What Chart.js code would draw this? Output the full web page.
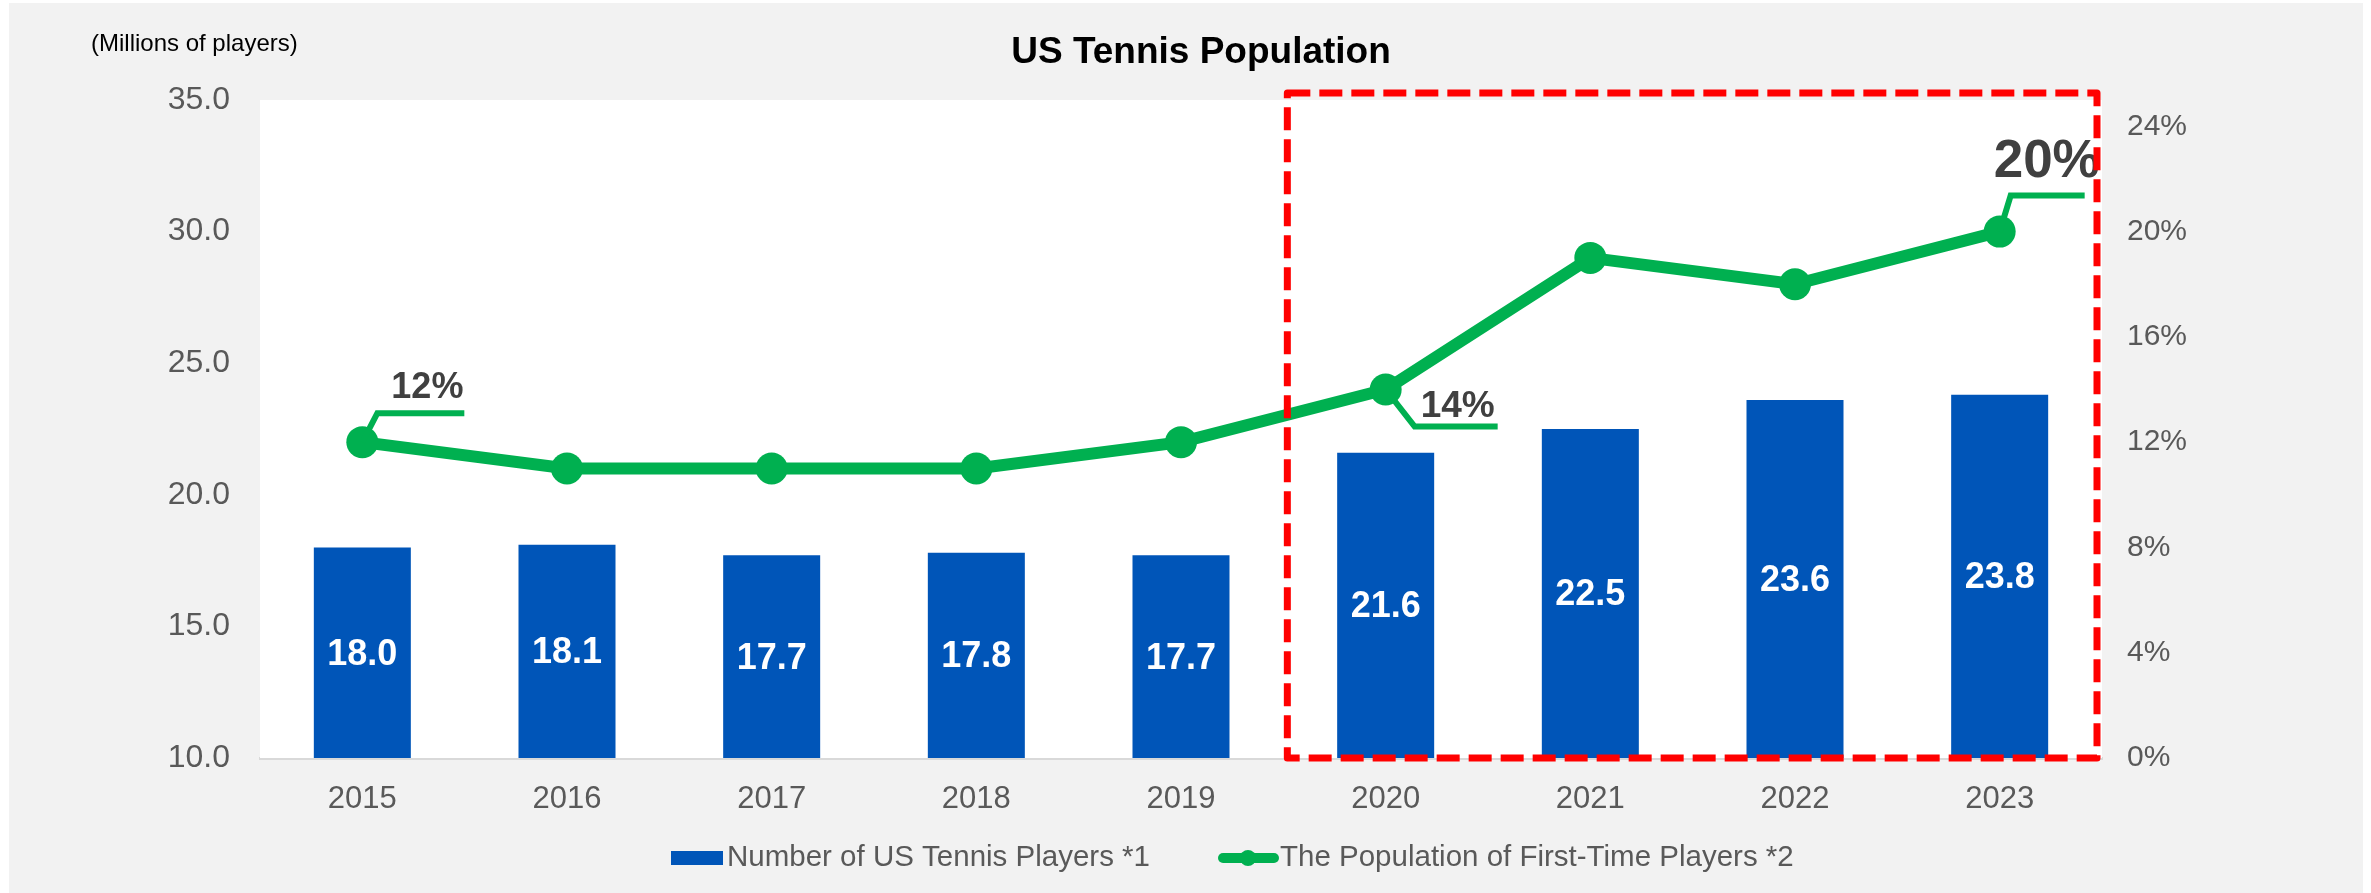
<!DOCTYPE html>
<html>
<head>
<meta charset="utf-8">
<script src="https://cdn.jsdelivr.net/npm/chart.js@4"></script>
<style>
  html, body { margin: 0; padding: 0; background: #ffffff; }
  #panel { position: absolute; left: 9px; top: 3px; width: 2354px; height: 890px; background: #f2f2f2; }
  #chart { position: absolute; left: 0; top: 0; display: block; }
</style>
</head>
<body>
<div id="panel"></div>
<canvas id="chart" width="2371" height="893"></canvas>
<script>
const years = ["2015", "2016", "2017", "2018", "2019", "2020", "2021", "2022", "2023"];
const players = [18.0, 18.1, 17.7, 17.8, 17.7, 21.6, 22.5, 23.6, 23.8];
const firstTimeShare = [12, 11, 11, 11, 12, 14, 19, 18, 20];
const leftTicks = [10, 15, 20, 25, 30, 35];
const rightTicks = [0, 4, 8, 12, 16, 20, 24];
const calloutIdx = [0, 5, 8];

const BLUE = "#0055b8";
const GREEN = "#00b050";
const GREY = "#595959";
const FONT = "'Liberation Sans', Arial, sans-serif";

// where each callout sits relative to its point: elbow, end of leader, text
const calloutStyle = {
  0: { elbow: [15, -29], end: [102, -29], text: [29, -44], size: 36 },
  5: { elbow: [29, 37], end: [112, 37], text: [35, 27], size: 37 },
  8: { elbow: [11, -36], end: [85, -36], text: [-6, -55], size: 53 },
};

const decorations = {
  id: "decorations",
  beforeDatasetsDraw(chart) {
    const { ctx, chartArea: a } = chart;
    ctx.save();
    ctx.fillStyle = "#ffffff";
    ctx.fillRect(a.left, a.top, a.right - a.left, a.bottom - a.top);
    ctx.restore();
  },
  afterDatasetsDraw(chart) {
    const { ctx, chartArea: a } = chart;
    const x = chart.scales.x;

    // values inside the bars
    const barMeta = chart.getDatasetMeta(1);
    ctx.save();
    ctx.fillStyle = "#ffffff";
    ctx.font = "bold 36px " + FONT;
    ctx.textAlign = "center";
    ctx.textBaseline = "middle";
    barMeta.data.forEach((el, i) => {
      const base = Math.min(el.base, a.bottom);
      ctx.fillText(players[i].toFixed(1), el.x, (el.y + base) / 2 + 2);
    });
    ctx.restore();

    // callouts on the line
    const lineMeta = chart.getDatasetMeta(0);
    calloutIdx.forEach((i) => {
      const p = lineMeta.data[i];
      const s = calloutStyle[i];
      ctx.save();
      ctx.strokeStyle = GREEN;
      ctx.lineWidth = 6;
      ctx.beginPath();
      ctx.moveTo(p.x, p.y);
      ctx.lineTo(p.x + s.elbow[0], p.y + s.elbow[1]);
      ctx.lineTo(p.x + s.end[0], p.y + s.end[1]);
      ctx.stroke();
      ctx.fillStyle = "#404040";
      ctx.font = "bold " + s.size + "px " + FONT;
      ctx.textAlign = "left";
      ctx.textBaseline = "alphabetic";
      ctx.fillText(firstTimeShare[i] + "%", p.x + s.text[0], p.y + s.text[1]);
      ctx.restore();
    });

    // red dashed frame round 2020-2023
    const left = (x.getPixelForValue(4) + x.getPixelForValue(5)) / 2 + 4;
    ctx.save();
    ctx.strokeStyle = "#ff0000";
    ctx.lineWidth = 7;
    ctx.setLineDash([23, 9]);
    ctx.lineJoin = "round";
    ctx.strokeRect(left, a.top - 7, a.right - 5 - left, a.bottom - a.top + 7);
    ctx.restore();
  },
  afterDraw(chart) {
    const { ctx } = chart;
    ctx.save();
    ctx.fillStyle = "#000000";
    ctx.font = "bold 37px " + FONT;
    ctx.textAlign = "center";
    ctx.textBaseline = "alphabetic";
    ctx.fillText("US Tennis Population", 1201, 63);
    ctx.font = "24px " + FONT;
    ctx.textAlign = "left";
    ctx.fillText("(Millions of players)", 91, 51);

    // legend
    const ds = chart.data.datasets;
    ctx.font = "29.5px " + FONT;
    ctx.textBaseline = "middle";
    ctx.fillStyle = BLUE;
    ctx.fillRect(671, 851, 52, 14);
    ctx.fillStyle = GREY;
    ctx.fillText(ds[1].label, 727, 858);
    ctx.strokeStyle = GREEN;
    ctx.lineWidth = 10;
    ctx.lineCap = "round";
    ctx.beginPath();
    ctx.moveTo(1223, 858);
    ctx.lineTo(1274, 858);
    ctx.stroke();
    ctx.fillStyle = GREEN;
    ctx.beginPath();
    ctx.arc(1248, 858, 8, 0, Math.PI * 2);
    ctx.fill();
    ctx.fillStyle = GREY;
    ctx.fillText(ds[0].label, 1280, 858);
    ctx.restore();
  },
};

new Chart(document.getElementById("chart"), {
  data: {
    labels: years,
    datasets: [
      {
        type: "line",
        label: "The Population of First-Time Players *2",
        data: firstTimeShare,
        yAxisID: "y1",
        borderColor: GREEN,
        backgroundColor: GREEN,
        borderWidth: 12,
        pointRadius: 16,
        pointHoverRadius: 16,
        pointBorderWidth: 0,
        pointBackgroundColor: GREEN,
        tension: 0,
        order: 0,
      },
      {
        type: "bar",
        label: "Number of US Tennis Players *1",
        data: players,
        yAxisID: "y",
        backgroundColor: BLUE,
        barPercentage: 0.474,
        categoryPercentage: 1,
        order: 1,
      },
    ],
  },
  options: {
    responsive: false,
    animation: false,
    layout: { padding: { top: 100, left: 0, right: 0, bottom: 0 } },
    plugins: {
      legend: { display: false },
      title: { display: false },
      tooltip: { enabled: false },
    },
    scales: {
      x: {
        grid: { display: false },
        border: { color: "#d9d9d9", width: 3 },
        ticks: { color: GREY, font: { size: 31, family: FONT }, padding: 15 },
        afterFit: (s) => { s.height = 135; },
      },
      y: {
        position: "left",
        min: leftTicks[0],
        max: leftTicks[leftTicks.length - 1],
        grid: { display: false, drawTicks: false },
        border: { display: false },
        ticks: {
          color: GREY,
          font: { size: 32, family: FONT },
          padding: 30,
          callback: (v) => Number(v).toFixed(1),
        },
        afterBuildTicks: (s) => { s.ticks = leftTicks.map((v) => ({ value: v })); },
        afterFit: (s) => { s.width = 260; },
      },
      y1: {
        position: "right",
        min: 0,
        max: 25,
        grid: { display: false, drawTicks: false },
        border: { display: false },
        ticks: {
          color: GREY,
          font: { size: 30, family: FONT },
          padding: 25,
          callback: (v) => v + "%",
        },
        afterBuildTicks: (s) => { s.ticks = rightTicks.map((v) => ({ value: v })); },
        afterFit: (s) => { s.width = 269; },
      },
    },
  },
  plugins: [decorations],
});
</script>
</body>
</html>
